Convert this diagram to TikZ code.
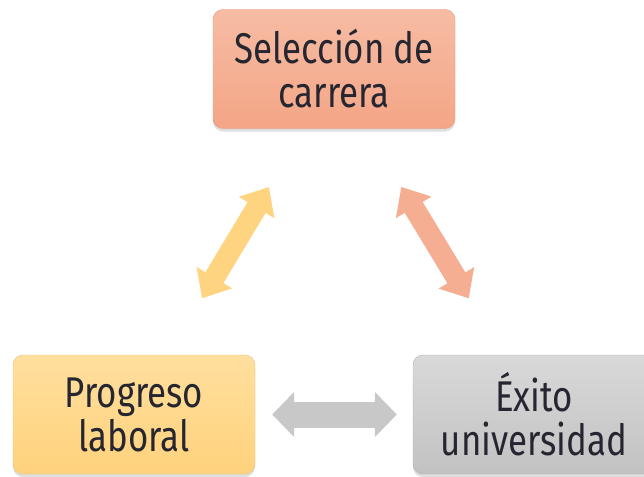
\documentclass[tikz,border=0pt]{standalone}
\usepackage{fontspec}
\setmainfont[FakeStretch=0.81]{Fira Sans}
\usetikzlibrary{calc,arrows.meta,shadows}
\definecolor{salmonA}{HTML}{F6BCA4}
\definecolor{salmonB}{HTML}{F4A586}
\definecolor{salmonLine}{HTML}{E59A7C}
\definecolor{sunA}{HTML}{FFDF9E}
\definecolor{sunB}{HTML}{FFD27C}
\definecolor{sunLine}{HTML}{E8C27E}
\definecolor{greyA}{HTML}{D9D9D9}
\definecolor{greyB}{HTML}{C2C2C2}
\definecolor{greyLine}{HTML}{B0B0B0}
\definecolor{inkT}{HTML}{262630}
\tikzset{
  stage/.style={rounded corners=10pt, minimum width=242pt, minimum height=119pt,
    align=center, text=inkT, font=\fontsize{43}{44}\selectfont,
    drop shadow={opacity=0.25, shadow xshift=0pt, shadow yshift=-3pt}},
  link/.style={line width=21pt, {Triangle[width=40pt,length=24pt]}-{Triangle[width=40pt,length=24pt]}},
}
\begin{document}
\begin{tikzpicture}[x=1pt, y=-1pt]
\useasboundingbox (0,0) rectangle (644,476);
\clip (0,0) rectangle (644,476);
% the three stages
\node[stage, draw=salmonLine, top color=salmonA, bottom color=salmonB] (sel) at (334,69) {Selección de\\carrera};
\node[stage, draw=sunLine, top color=sunA, bottom color=sunB] (prog) at (134,414.5) {Progreso\\laboral};
\node[stage, draw=greyLine, top color=greyA, bottom color=greyB] (exito) at (534,414.5) {Éxito\\universidad};
% two-way links
\draw[link, draw=sunB!85!sunA, fill=sunB!85!sunA, shorten <=66pt, shorten >=68pt]
  ($(prog.north)+(34,0)$) -- ($(sel.south)+(-30,0)$);
\draw[link, draw=salmonB!60!salmonA, fill=salmonB!60!salmonA, shorten <=68pt, shorten >=66pt]
  ($(sel.south)+(32,0)$) -- ($(exito.north)+(-31,0)$);
\draw[link, line width=26pt, draw=greyB!90!white, fill=greyB!90!white,
  {Triangle[width=44pt,length=22pt]}-{Triangle[width=44pt,length=22pt]},
  shorten <=17pt, shorten >=16pt] (prog.east) -- (exito.west);
\end{tikzpicture}
\end{document}
